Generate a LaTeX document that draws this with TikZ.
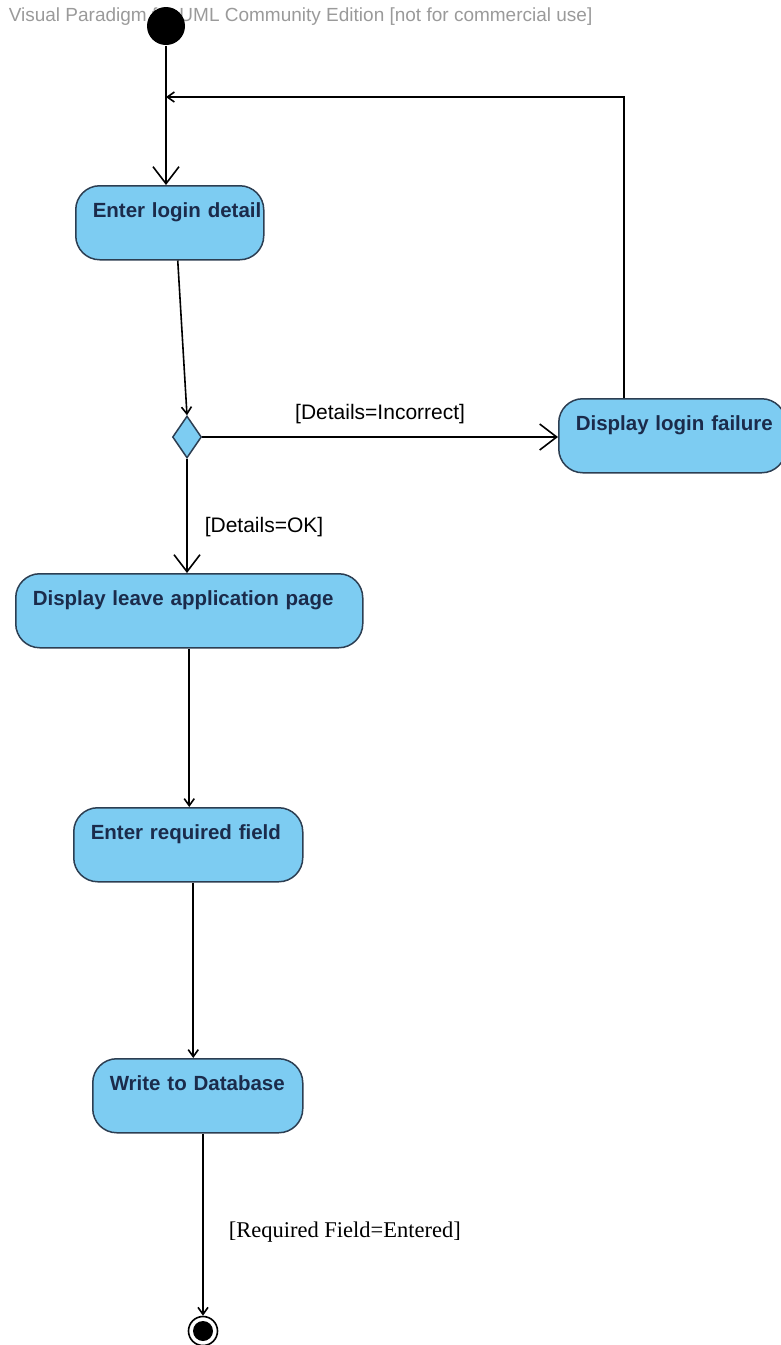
\documentclass[tikz,border=0pt]{standalone}
\usepackage{fontspec}
\setmainfont{Liberation Sans}
\newfontfamily\guardserif{Liberation Serif}
\usepackage{tikz}
\usetikzlibrary{arrows.meta}
\usetikzlibrary{shapes.geometric}
\usepackage{xcolor}
\definecolor{C0}{HTML}{7DCCF2}
\definecolor{C1}{HTML}{2C3E52}
\definecolor{C2}{HTML}{1B2B4B}
\definecolor{C3}{HTML}{9A9A9A}

\begin{document}
\begin{tikzpicture}[x=1pt,y=-1pt,line width=1.6pt]

\tikzset{
act/.style = {draw=C1, fill=C0, line width=1.5pt, rounded corners=24pt,
  anchor=north west, inner xsep=17pt, inner ysep=0pt,
  text width=#1, align=left, text height=32pt, text depth=42pt,
  text=C2, font=\fontsize{20.5}{24}\selectfont\bfseries},
dec/.style = {diamond, draw=C1, fill=C0, line width=1.5pt, inner sep=0pt,
  minimum width=29pt, minimum height=42pt},
final/.style = {circle, draw, fill=white, inner sep=0pt, minimum size=29pt,
  path picture={\fill[black] (path picture bounding box.center) circle (10pt);}},
guard/.style = {inner sep=0pt, font=\fontsize{21}{25}\selectfont},
big/.style = {-{Straight Barb[length=17pt,width=26pt]}},
small/.style = {-{Straight Barb[length=7pt,width=10pt]}},
}

\useasboundingbox (0,0) rectangle (780,1345);

\node[anchor=base west, inner sep=0pt, text=C3, font=\fontsize{19}{22}\selectfont] (wm) at (8,21)
  {Visual Paradigm for UML Community Edition [not for commercial use]};

\node[circle, fill=black, inner sep=0pt, minimum size=38pt] (start) at (166,26) {};
\coordinate (join) at (166,97);
\coordinate (corner) at (624,97);

\node[act=154pt] (login) at (75,185) {\mbox{Enter login detail}};
\node[dec] (choice) at (187,437) {};
\node[act=193pt] (fail) at (558,398) {\mbox{Display login failure}};
\node[act=313pt] (leave) at (15,573) {Display leave application page};
\node[act=195pt] (req) at (73,807) {Enter required field};
\node[act=176pt] (db) at (92,1058) {Write to Database};
\node[final] (stop) at (203,1331) {};

\draw[big] (start) -- (start |- login.north);
\draw[small] (fail.north -| corner) -- (corner) -- (join);
\draw[small] ([xshift=8pt]login.south) -- (choice.north);

\draw[big] (choice.east) -- node[guard, above=12pt] (g_bad) {[Details=Incorrect]} (choice.east -| fail.west);
\draw[big] (choice.south) -- node[guard, pos=0.6, right=17pt] (g_ok) {[Details=OK]} (choice.south |- leave.north);

\draw[small] (leave.south) -- (leave.south |- req.north);
\draw[small] ([xshift=5pt]req.south) -- ([xshift=5pt]req.south |- db.north);
\draw[small] (db.south -| stop) -- node[guard, pos=0.54, right=25pt, font=\guardserif\fontsize{22.5}{27}\selectfont] (g_done) {[Required Field=Entered]} (stop);

%\draw [help lines] grid (780,1345);

\end{tikzpicture}
\end{document}
